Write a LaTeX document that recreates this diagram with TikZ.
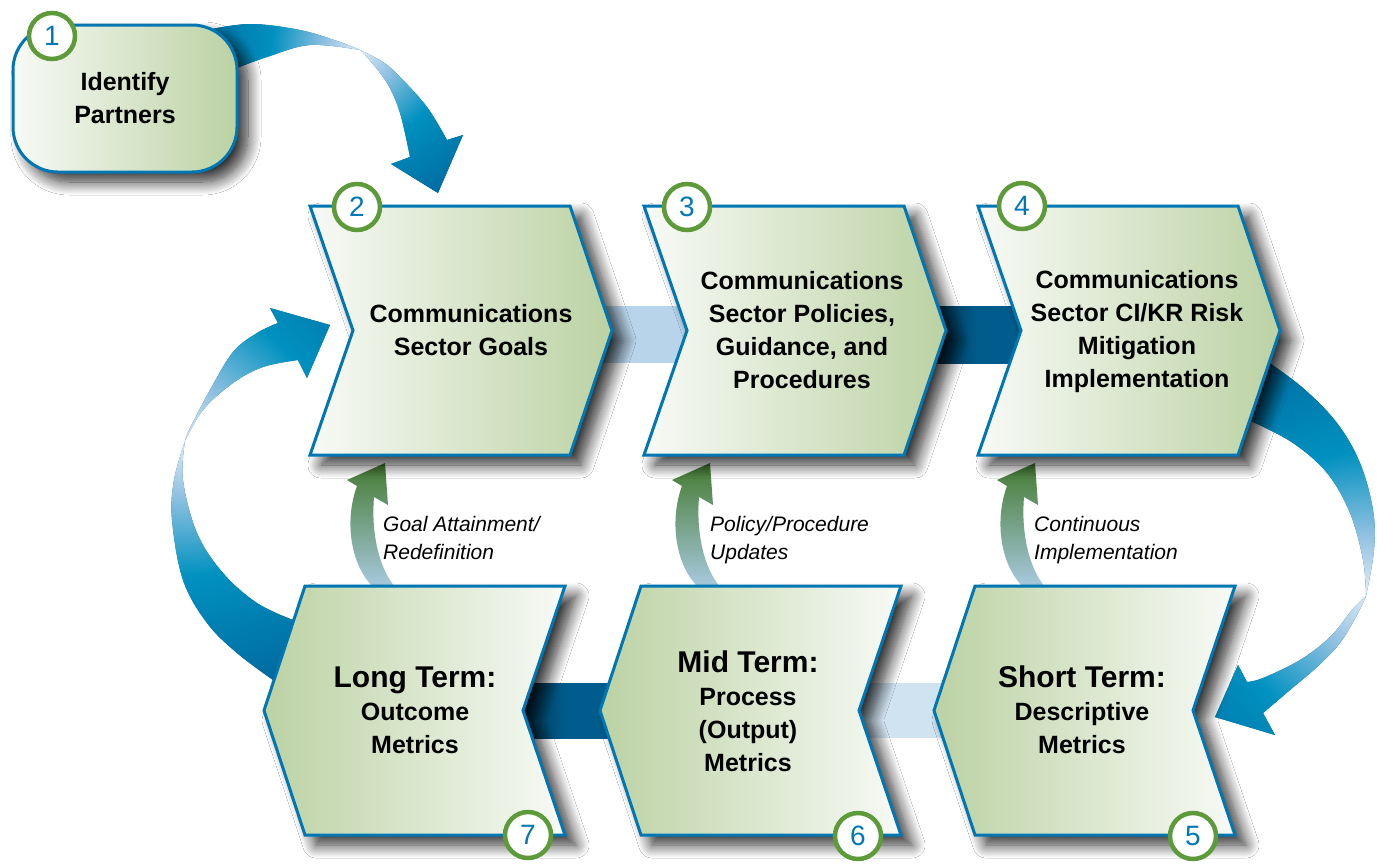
\documentclass[tikz,border=0pt]{standalone}
\usepackage{fontspec}
\setmainfont{Liberation Sans}
\usetikzlibrary{shadows.blur}
\definecolor{boxblue}{RGB}{0,119,178}
\definecolor{boxlight}{RGB}{248,250,246}
\definecolor{boxgreen}{RGB}{187,210,163}
\definecolor{ringgreen}{RGB}{92,154,58}
\definecolor{numblue}{RGB}{0,120,180}
\definecolor{lightband}{RGB}{183,212,234}
\definecolor{lightbandb}{RGB}{208,227,241}
\definecolor{darkband}{RGB}{0,92,140}
\definecolor{arrvlight}{RGB}{222,235,246}
\definecolor{arrlight}{RGB}{150,195,226}
\definecolor{arrmid}{RGB}{0,145,192}
\definecolor{arrdark}{RGB}{0,104,158}
\definecolor{gtop}{RGB}{68,122,48}
\definecolor{gbottom}{RGB}{168,202,224}
\pgfdeclareradialshading{ribbon}{\pgfpoint{0bp}{0bp}}{color(0bp)=(arrvlight); color(5bp)=(arrlight); color(13bp)=(arrmid); color(25bp)=(arrdark); color(50bp)=(arrdark)}
\begin{document}
\begin{tikzpicture}[x=1pt,y=-1pt,
  boxshape/.style={draw=boxblue, line width=3pt, line join=miter,
    blur shadow={shadow xshift=11pt, shadow yshift=-10pt, shadow blur radius=13pt, shadow blur steps=14, shadow opacity=82}},
  topfill/.style={left color=boxlight, right color=boxgreen},
  botfill/.style={left color=boxgreen, right color=boxlight},
  title/.style={font=\bfseries\fontsize{25}{33}\selectfont, align=center, inner sep=0pt},
  badge/.style={circle, draw=ringgreen, line width=4.5pt, fill=white, minimum size=46pt, inner sep=0pt, text=numblue, font=\fontsize{28}{28}\selectfont},
  note/.style={font=\itshape\fontsize{21}{28}\selectfont, align=left, inner sep=0pt, anchor=north west},
  greenarrow/.pic={\path[top color=gtop, bottom color=gbottom] (0,0) -- (3,42) -- (-11,34) .. controls (-14,70) and (-6,105) .. (10,124) -- (-12,124) .. controls (-36,100) and (-40,55) .. (-28,23) -- (-38,17) -- cycle;}
]
\useasboundingbox (0,0) rectangle (1377,863);
\fill[white] (0,0) rectangle (1377,863);

% straight bands between boxes
\fill[lightband] (595,306) rectangle (700,363);
\path[left color=darkband!45!black, right color=darkband, middle color=darkband] (925,306) rectangle (1030,363);
\path[left color=darkband!45!black, right color=darkband, middle color=darkband] (515,683) rectangle (615,738);
\fill[lightbandb] (850,683) rectangle (950,738);

% top curved arrow (1 -> 2)
\path[fill=arrdark, path picture={\shade[shading=ribbon] (360,50) circle (170pt);}]
  (200,40) -- plot[smooth, tension=0.6] coordinates {(207,30) (250,24) (300,30) (340,42) (360,50)}
  -- plot[smooth, tension=0.6] coordinates {(360,50) (383,62) (400,77) (427,107) (447,140)}
  -- (463,135) -- (438,193) -- (391,164) -- (410,157)
  -- plot[smooth, tension=0.6] coordinates {(410,157) (400,113) (387,83) (367,57) (360,50)}
  -- plot[smooth, tension=0.6] coordinates {(360,50) (310,45) (267,57) (237,68)}
  -- (220,70) -- cycle;

% left curved arrow (7 -> 2)
\path[fill=arrdark, path picture={\shade[shading=ribbon] (185,441) circle (260pt);}]
  (290,692) -- plot[smooth, tension=0.6] coordinates {(273,680) (237,653) (207,623) (183,580) (172,520) (174,480) (185,441)}
  -- plot[smooth, tension=0.6] coordinates {(185,441) (190,428) (210,390) (233,352) (257,333) (278,323)}
  -- (270,308) -- (330,325) -- (307,378) -- (298,360)
  -- plot[smooth, tension=0.6] coordinates {(298,360) (263,367) (233,383) (203,410) (185,441)}
  -- plot[smooth, tension=0.6] coordinates {(185,441) (183,480) (197,533) (223,573) (257,603) (293,620)}
  -- (305,625) -- cycle;

% right curved arrow (4 -> 5)
\path[fill=arrdark, path picture={\shade[shading=ribbon] (1365,592) circle (270pt);}]
  (1235,372) -- plot[smooth, tension=0.6] coordinates {(1268,362) (1303,388) (1337,423) (1360,463) (1373,510) (1374,550) (1366,596)}
  -- plot[smooth, tension=0.6] coordinates {(1366,596) (1357,615) (1340,643) (1317,667) (1290,690) (1263,713)}
  -- (1275,735) -- (1215,717) -- (1238,665) -- (1247,682)
  -- plot[smooth, tension=0.6] coordinates {(1247,682) (1263,678) (1300,660) (1330,637) (1352,610) (1366,596)}
  -- plot[smooth, tension=0.6] coordinates {(1366,596) (1363,560) (1350,513) (1327,473) (1293,443) (1253,422)}
  -- (1230,420) -- cycle;

% green feedback arrows
\pic (g2) at (385,463) {greenarrow};
\pic (g3) at (710,463) {greenarrow};
\pic (g4) at (1035,463) {greenarrow};

% boxes
\path[boxshape, topfill, rounded corners=45pt] (13,25) rectangle (237,172);
\foreach \x in {310,644,978}
  \path[boxshape, topfill] (\x,206) -- ++(260,0) -- ++(42,124.5) -- ++(-42,124.5) -- ++(-260,0) -- ++(43,-124.5) -- cycle;
\foreach \x in {264,600,934}
  \path[boxshape, botfill] (\x,710.5) -- ++(41,-124.5) -- ++(260,0) -- ++(-42,124.5) -- ++(42,124.5) -- ++(-260,0) -- cycle;

% texts
\node[title] (n1) at (125,98) {Identify\\Partners};
\node[title] (n2) at (471,330) {Communications\\Sector Goals};
\node[title] (n3) at (802,330) {Communications\\Sector Policies,\\Guidance, and\\Procedures};
\node[title] (n4) at (1137,332) {Communications\\Sector CI/KR Risk\\Mitigation\\Implementation};
\node[title] (n7) at (415,710) {{\fontsize{30}{33}\selectfont Long Term:}\\Outcome\\Metrics};
\node[title] (n6) at (748,711) {{\fontsize{30}{33}\selectfont Mid Term:}\\Process\\(Output)\\Metrics};
\node[title] (n5) at (1082,710) {{\fontsize{30}{33}\selectfont Short Term:}\\Descriptive\\Metrics};

\node[note] (t2) at (383,516) {Goal Attainment/\\Redefinition};
\node[note] (t3) at (710,516) {Policy/Procedure\\Updates};
\node[note] (t4) at (1034,516) {Continuous\\Implementation};

% badges
\node[badge] (b1) at (52,36) {1};
\node[badge] (b2) at (357,207) {2};
\node[badge] (b3) at (687,207) {3};
\node[badge] (b4) at (1022,206) {4};
\node[badge] (b5) at (1193,836) {5};
\node[badge] (b6) at (858,836) {6};
\node[badge] (b7) at (528,835) {7};
\end{tikzpicture}
\end{document}
